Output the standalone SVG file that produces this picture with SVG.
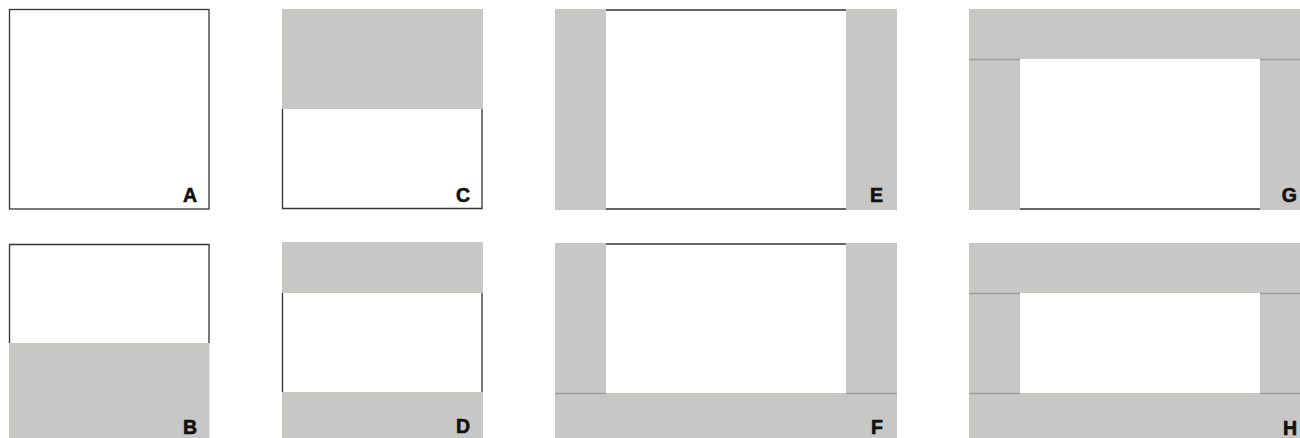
<svg xmlns="http://www.w3.org/2000/svg" width="1300" height="438" viewBox="0 0 1300 438">
<style>
.bg{fill:#ffffff}
.g{fill:#c7c7c6}
.edge{stroke:#333333;stroke-width:1.3;fill:none}
.sep{stroke:#9c9c9c;stroke-width:1.5;fill:none}
.lbl{font-family:"Liberation Sans",Arial,sans-serif;font-weight:bold;font-size:19.5px;fill:#111111;stroke:#111111;stroke-width:0.6;text-anchor:end}
</style>
<rect class="bg" x="0" y="0" width="1300" height="438"/>
<g id="panel-A">
<rect x="9.5" y="9.5" width="199.5" height="199.5" fill="#fff" stroke="#333" stroke-width="1.3"/>
<text class="lbl" x="197" y="202">A</text>
</g>
<g id="panel-B">
<rect class="g" x="9" y="343" width="200.5" height="95"/>
<path class="edge" d="M9.5 343V244.5H209V343"/>
<text class="lbl" x="197" y="434">B</text>
</g>
<g id="panel-C">
<rect class="g" x="282" y="9" width="201" height="100"/>
<path class="edge" d="M282.5 109V208.5H482V109"/>
<text class="lbl" x="470" y="202">C</text>
</g>
<g id="panel-D">
<rect class="g" x="282" y="242" width="201" height="51"/>
<rect class="g" x="282" y="392" width="201" height="46"/>
<path class="edge" d="M282.5 293V392M482 293V392"/>
<text class="lbl" x="470" y="433">D</text>
</g>
<g id="panel-E">
<rect class="g" x="555" y="9" width="51" height="201"/>
<rect class="g" x="846" y="9" width="51" height="201"/>
<path class="edge" d="M606 10H846M606 209H846" stroke="#555"/>
<text class="lbl" x="883" y="202">E</text>
</g>
<g id="panel-F">
<rect class="g" x="555" y="243" width="51" height="150"/>
<rect class="g" x="846" y="243" width="51" height="150"/>
<rect class="g" x="555" y="393" width="342" height="45"/>
<path class="edge" d="M606 244H846" stroke="#666"/>
<path class="sep" d="M555 393.5H606M846 393.5H897"/>
<text class="lbl" x="883" y="434">F</text>
</g>
<g id="panel-G">
<rect class="g" x="969" y="9" width="331" height="50"/>
<rect class="g" x="969" y="59" width="51" height="151"/>
<rect class="g" x="1260" y="59" width="40" height="151"/>
<path class="sep" d="M969 59.5H1020M1260 59.5H1300"/>
<path class="edge" d="M1020 209H1260" stroke="#555"/>
<text class="lbl" x="1297" y="202">G</text>
</g>
<g id="panel-H">
<rect class="g" x="969" y="243" width="331" height="50"/>
<rect class="g" x="969" y="293" width="51" height="100"/>
<rect class="g" x="1260" y="293" width="40" height="100"/>
<rect class="g" x="969" y="393" width="331" height="45"/>
<path class="sep" d="M969 293.5H1020M1260 293.5H1300M969 393.5H1020M1260 393.5H1300"/>
<text class="lbl" x="1297" y="435">H</text>
</g>
</svg>
